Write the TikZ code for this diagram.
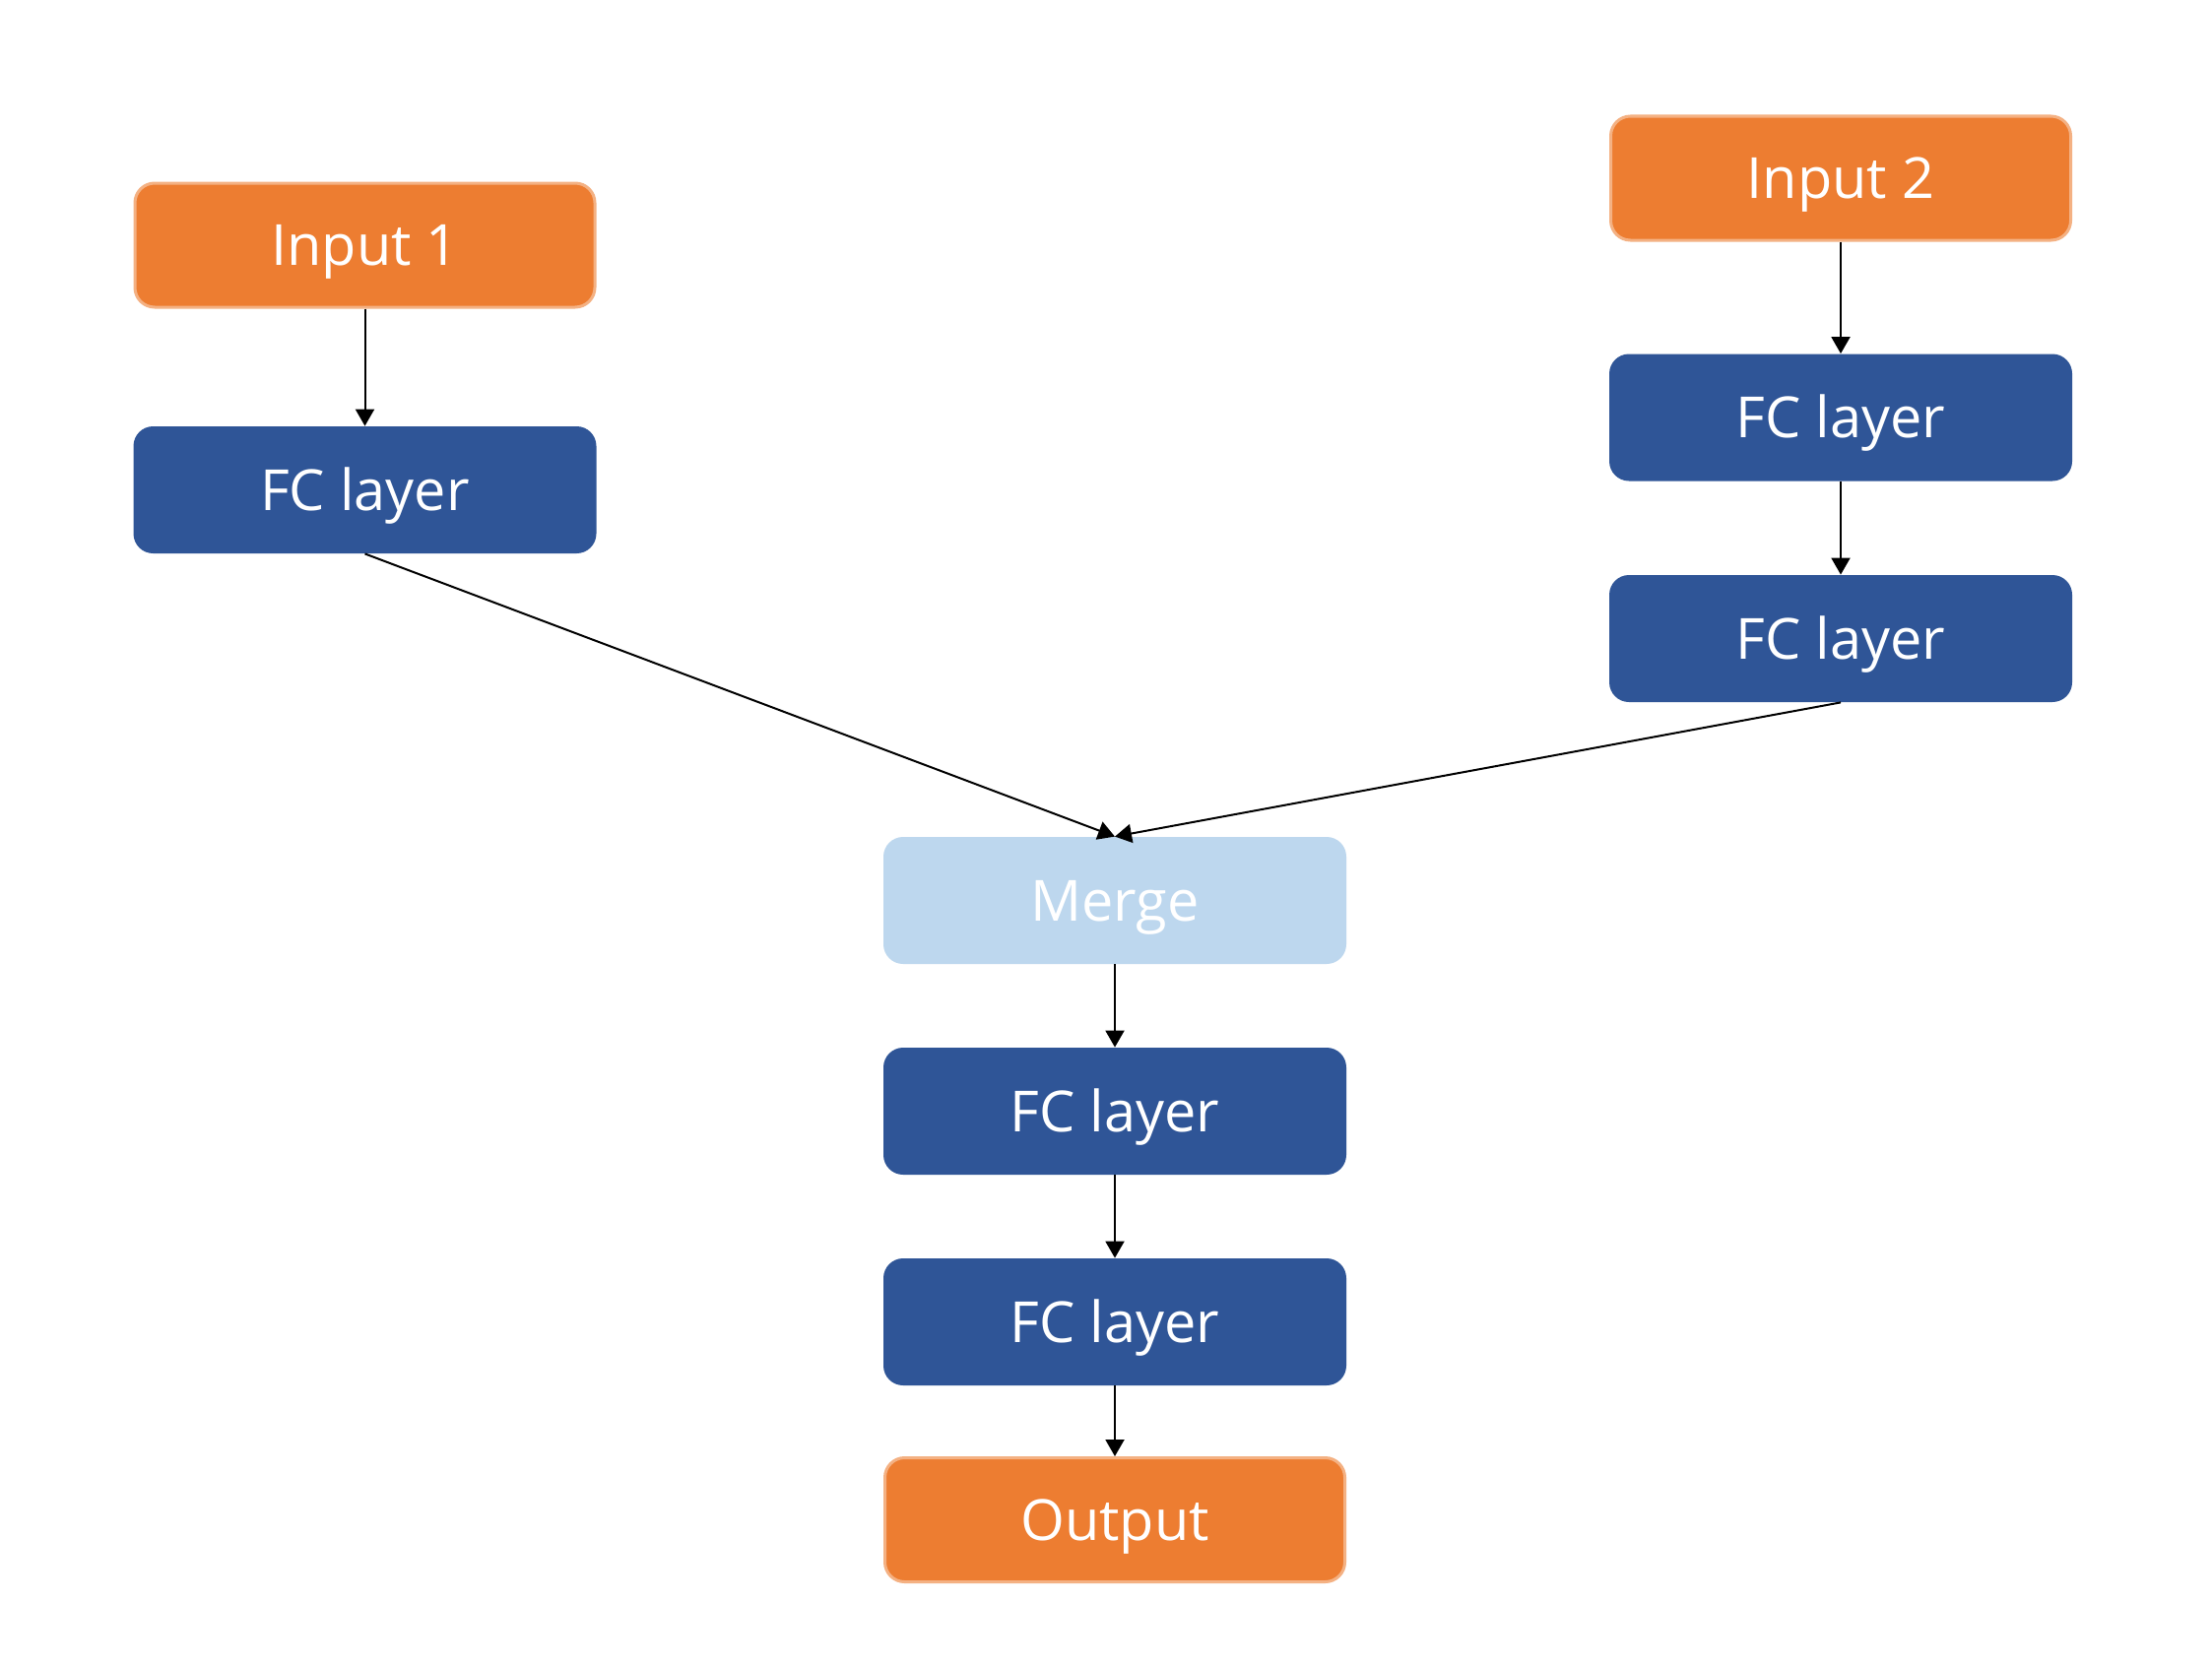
\documentclass[tikz,border=0pt]{standalone}
\usepackage{fontspec}
\setmainfont{Open Sans}
\usetikzlibrary{arrows.meta}
\definecolor{ioorange}{HTML}{ED7D31}
\definecolor{ioedge}{HTML}{F4B183}
\definecolor{fcblue}{HTML}{2F5597}
\definecolor{mergeblue}{HTML}{BDD7EE}
\begin{document}
\begin{tikzpicture}[x=0.5pt,y=-0.5pt,
  box/.style={rectangle, rounded corners=10pt, minimum width=235pt, minimum height=64.5pt,
    inner sep=0pt, text=white, font=\fontsize{28.8}{32}\selectfont,
    text height=20.6pt, text depth=0pt},
  iobox/.style={box, fill=ioorange, draw=ioedge, line width=1.5pt,
    minimum width=233.5pt, minimum height=63pt},
  fcbox/.style={box, fill=fcblue},
  mergebox/.style={box, fill=mergeblue},
  conn/.style={-{Triangle[length=8.5pt,width=9.5pt]}, line width=1pt, black}]
\useasboundingbox (0,0) rectangle (2246,1691);
\fill[white] (0,0) rectangle (2246,1691);

% left branch
\node[iobox] (in1) at (370.5,249) {Input 1};
\node[fcbox] (fcl) at (370.5,497.5) {FC layer};

% right branch
\node[iobox] (in2) at (1869,181) {Input 2};
\node[fcbox] (fcr1) at (1869,424) {FC layer};
\node[fcbox] (fcr2) at (1869,648.5) {FC layer};

% merged trunk
\node[mergebox] (merge) at (1132,914.5) {Merge};
\node[fcbox] (fcm1) at (1132,1128.5) {FC layer};
\node[fcbox] (fcm2) at (1132,1342.5) {FC layer};
\node[iobox] (out) at (1132,1543.5) {Output};

\draw[conn] (in1.south) -- (fcl.north);
\draw[conn] (in2.south) -- (fcr1.north);
\draw[conn] (fcr1.south) -- (fcr2.north);
\draw[conn] (fcl.south) -- (merge.north);
\draw[conn] (fcr2.south) -- (merge.north);
\draw[conn] (merge.south) -- (fcm1.north);
\draw[conn] (fcm1.south) -- (fcm2.north);
\draw[conn] (fcm2.south) -- (out.north);
\end{tikzpicture}
\end{document}
